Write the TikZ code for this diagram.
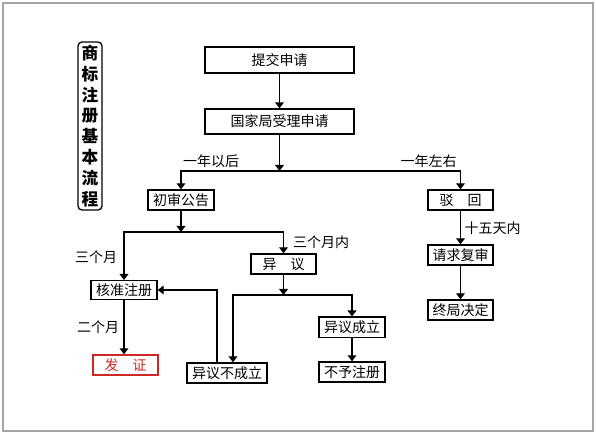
\documentclass[tikz,border=0pt]{standalone}
\usepackage{fontspec}
\setmainfont{Noto Sans CJK SC}
\usetikzlibrary{arrows.meta}

\tikzset{every picture/.style={line width=0.75pt}}
\tikzset{
  box/.style={draw, line width=1pt, inner sep=0.75pt, font=\fontsize{10.5}{12}\selectfont},
  lbl/.style={inner sep=0.75pt, font=\fontsize{10.5}{12}\selectfont},
  arr/.style={line width=1pt, -{Triangle[width=6.5pt,length=4.5pt]}},
  wire/.style={line width=1pt}
}
\definecolor{frame}{RGB}{165,165,165}
\definecolor{certred}{RGB}{205,40,40}

\begin{document}
\begin{tikzpicture}[x=0.75pt,y=0.75pt,yscale=-1,xscale=1]
\useasboundingbox (0,0) rectangle (596,434);

%Shape: Rectangle (frame)
\draw [color=frame, line width=1pt] (3,3) rectangle (593,431);

%Shape: Rounded Rect (title)
\node [draw, line width=1pt, rounded corners=3pt, minimum width=18pt, minimum height=126pt, inner sep=0.5pt, align=center, font=\fontsize{12.5}{15.6}\selectfont\bfseries] (title) at (90,126) {商\\标\\注\\册\\基\\本\\流\\程};

%Shape: Rectangle (main boxes)
\node [box, minimum width=111.75pt, minimum height=19.5pt] (submit) at (279.5,60) {提交申请};
\node [box, minimum width=111.75pt, minimum height=18.75pt] (accept) at (279.5,121.5) {国家局受理申请};
\node [box, minimum width=49.5pt, minimum height=15pt] (publish) at (181,200) {初审公告};
\node [box, minimum width=48.75pt, minimum height=15pt] (reject) at (460.5,200) {驳\hspace{1em}回};
\node [box, minimum width=49.5pt, minimum height=14pt] (approve) at (124,290) {核准注册};
\node [box, minimum width=48.75pt, minimum height=15pt] (oppose) at (283.5,264) {异\hspace{1em}议};
\node [box, draw=certred, text=certred, minimum width=48.75pt, minimum height=15pt] (certify) at (125.5,365) {发\hspace{1em}证};
\node [box, minimum width=60pt, minimum height=15pt] (fail) at (227,373) {异议不成立};
\node [box, minimum width=49.5pt, minimum height=15.5pt] (succeed) at (352,327.5) {异议成立};
\node [box, minimum width=49.5pt, minimum height=15pt] (refuse) at (352,372) {不予注册};
\node [box, minimum width=48.75pt, minimum height=15pt] (review) at (460.5,255) {请求复审};
\node [box, minimum width=48.75pt, minimum height=15pt] (final) at (460.5,310) {终局决定};

%Junctions
\coordinate (split1) at (279.5,171);
\coordinate (split2) at (181,232);
\coordinate (split3) at (283.5,295);

%Straight Lines
\draw [arr] (submit) -- (accept);
\draw [arr] (accept) -- (split1);
\draw [arr] (split1) -| (publish);
\draw [arr] (split1) -| (reject);
\draw [arr] (publish) -- (split2);
\draw [arr] (split2) -| (approve);
\draw [arr] (split2) -| (oppose);
\draw [arr] (oppose) -- (split3);
\draw [arr] (split3) -| ([xshift=4.5pt]fail.north);
\draw [arr] (split3) -| (succeed);
\draw [arr] (succeed) -- (refuse);
\draw [arr] ([xshift=-7.5pt]fail.north) |- (approve.east);
\draw [arr] (approve) -- (approve |- certify.north);
\draw [arr] (reject) -- (review);
\draw [arr] (review) -- (final);

% Text Node
\node [lbl] (after) at (211,161) {一年以后};
% Text Node
\node [lbl] (about) at (428.5,161) {一年左右};
% Text Node
\node [lbl] (three) at (96,257) {三个月};
% Text Node
\node [lbl] (within) at (321,242) {三个月内};
% Text Node
\node [lbl] (two) at (98,327) {二个月};
% Text Node
\node [lbl] (fifteen) at (492.5,228) {十五天内};

\end{tikzpicture}
\end{document}
